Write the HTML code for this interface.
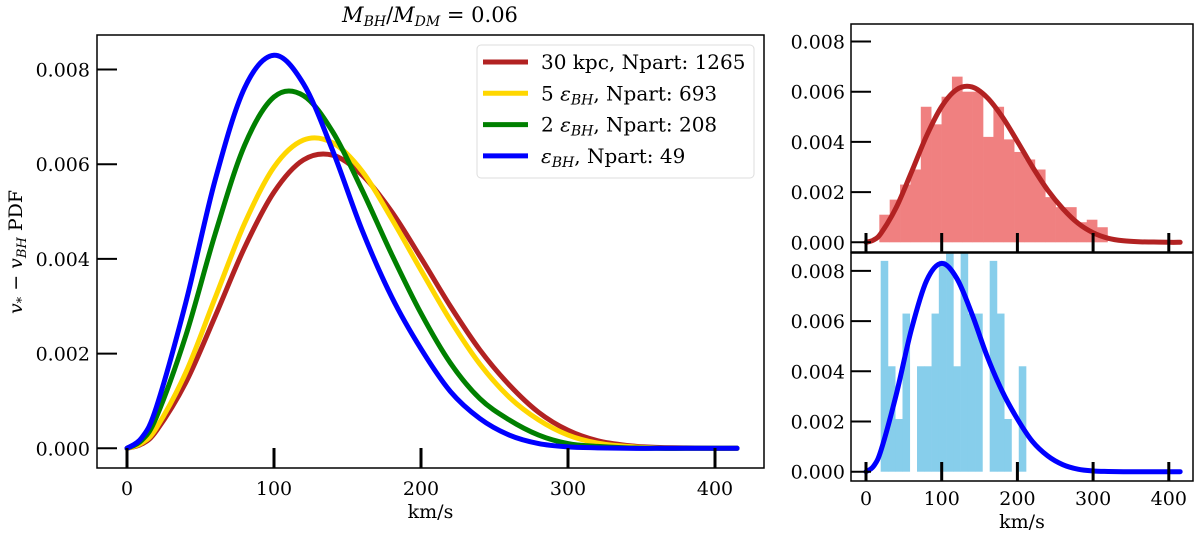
<!DOCTYPE html>
<html><head><meta charset="utf-8"><style>
html,body{margin:0;padding:0;background:#fff;}
svg{display:block;font-family:"DejaVu Serif","Liberation Serif",serif;}
</style></head><body>
<svg id="chart" width="1200" height="539" viewBox="0 0 1200 539" xmlns="http://www.w3.org/2000/svg">
<defs>
<clipPath id="clipMain"><rect x="97" y="35" width="667" height="433"/></clipPath>
<clipPath id="clipTop"><rect x="851" y="24" width="342" height="228"/></clipPath>
<clipPath id="clipBot"><rect x="851" y="253" width="342" height="228"/></clipPath>
</defs>
<text x="430" y="22" text-anchor="middle" font-size="21"><tspan font-style="italic">M</tspan><tspan font-style="italic" font-size="14" dy="4">BH</tspan><tspan dy="-4">/</tspan><tspan font-style="italic">M</tspan><tspan font-style="italic" font-size="14" dy="4">DM</tspan><tspan dy="-4"> = 0.06</tspan></text>
<text transform="translate(22,252) rotate(-90)" text-anchor="middle" font-size="19"><tspan font-style="italic">v</tspan><tspan font-size="13" dy="4">*</tspan><tspan dy="-4"> − </tspan><tspan font-style="italic">v</tspan><tspan font-style="italic" font-size="13" dy="4">BH</tspan><tspan dy="-4"> PDF</tspan></text>
<g id="main"></g><g id="top"></g><g id="bot"></g>
</svg>
<script>
const velocities = [0,10,20,40,60,80,100,120,140,160,180,200,220,240,260,280,300,320,340,360,380,400,415];
const pdf30kpc = [0,0.00009,0.00037,0.00139,0.00279,0.00424,0.00541,0.00609,0.00619,0.00577,0.00500,0.00402,0.00300,0.00208,0.00134,0.00076,0.00038,0.00016,0.00006,0.00002,0.00001,0,0];
const pdf5eps = [0,0.00011,0.00043,0.0016,0.00318,0.00475,0.00594,0.00651,0.00645,0.00585,0.00485,0.00376,0.0027,0.00178,0.00108,0.0006,0.00028,0.00011,0.00004,0.00001,0,0,0];
const pdf2eps = [0,0.00017,0.00066,0.00238,0.00453,0.0064,0.00742,0.00745,0.00668,0.00545,0.0041,0.00285,0.0018,0.00105,0.0006,0.00028,0.0001,0.00004,0.00001,0,0,0,0];
const pdf1eps = [0,0.00022,0.00087,0.00308,0.00567,0.00761,0.0083,0.0077,0.00628,0.0046,0.0032,0.0021,0.0012,0.00063,0.00028,0.0001,0.00003,0.00001,0,0,0,0,0];
const seriesLabels = ["30 kpc, Npart: 1265","5 εBH, Npart: 693","2 εBH, Npart: 208","εBH, Npart: 49"];
const xTicks = [0,100,200,300,400];
const yTicks = [0,0.002,0.004,0.006,0.008];
const yTickLabels = ["0.000","0.002","0.004","0.006","0.008"];
const histTopStart = 17.6, histTopWidth = 13.7;
const histTop = [0.0011,0.0017,0.0023,0.0029,0.0054,0.0047,0.0058,0.0066,0.0060,0.0060,0.0042,0.0054,0.0041,0.0036,0.0033,0.0029,0.0018,0.0014,0.0014,0.0008,0.0009,0.0006];
const histBotStart = 19.4, histBotWidth = 9.6;
const histBot = [0.0084,0.0042,0.0021,0.0063,0,0.0042,0.0042,0.0063,0.0084,0.0105,0.0042,0.0105,0.0063,0.0063,0,0.0084,0.0063,0.0021,0,0.0042];

const NS="http://www.w3.org/2000/svg";
const FS=19;
function mk(tag,attrs,parent){const e=document.createElementNS(NS,tag);for(const k in attrs)e.setAttribute(k,attrs[k]);parent.appendChild(e);return e;}
function pathOf(xs,ys,sx,sy){
  const p=xs.map((x,i)=>[sx(x),sy(ys[i])]);
  let d=`M${p[0][0]},${p[0][1]}`;
  for(let i=0;i<p.length-1;i++){
    const p0=p[Math.max(0,i-1)],p1=p[i],p2=p[i+1],p3=p[Math.min(p.length-1,i+2)];
    const c1=[p1[0]+(p2[0]-p0[0])/6,p1[1]+(p2[1]-p0[1])/6];
    const c2=[p2[0]-(p3[0]-p1[0])/6,p2[1]-(p3[1]-p1[1])/6];
    d+=`C${c1[0]},${c1[1]} ${c2[0]},${c2[1]} ${p2[0]},${p2[1]}`;
  }
  return d;
}
function axes(g,box,sx,sy,tickLen,labelY,xlabelY,fs,ylabelX,prefix){
  for(let i=0;i<xTicks.length;i++){
    const t=mk('line',{x1:sx(xTicks[i]),x2:sx(xTicks[i]),y1:box.b,y2:box.b-tickLen,stroke:'#000','stroke-width':3},g);
    
    
    const l=mk('text',{x:sx(xTicks[i]),y:labelY,'text-anchor':'middle','font-size':fs},g);
    
    
    l.textContent=xTicks[i];
  }
  for(let i=0;i<yTicks.length;i++){
    const t=mk('line',{x1:box.l,x2:box.l+tickLen,y1:sy(yTicks[i]),y2:sy(yTicks[i]),stroke:'#000','stroke-width':2},g);
    
    
    const l=mk('text',{x:ylabelX,y:sy(yTicks[i])+7,'text-anchor':'end','font-size':fs},g);
    
    
    l.textContent=yTickLabels[i];
  }
  const xl=mk('text',{x:(box.l+box.r)/2,y:xlabelY,'text-anchor':'middle','font-size':fs},g);
  
  
  xl.textContent='km/s';
}
function frame(g,box,prefix){
  const f=mk('rect',{x:box.l,y:box.t,width:box.r-box.l,height:box.b-box.t,fill:'none',stroke:'#000','stroke-width':1.5},g);
  
  
}
const M={l:97,r:764,t:35,b:468};
const mx=v=>127+v*1.47, my=v=>448.3-v*47350;
const gm=document.getElementById('main');
const colors=['#b22222','#ffd700','#008000','#0000ff'];
const allSeries=[pdf30kpc,pdf5eps,pdf2eps,pdf1eps];
const seriesNames=['curve-30kpc','curve-5-eps','curve-2-eps','curve-1-eps'];
const cg=mk('g',{'clip-path':'url(#clipMain)'},gm);
for(let s=0;s<4;s++){
  const p=mk('path',{d:pathOf(velocities,allSeries[s],mx,my),fill:'none',stroke:colors[s],'stroke-width':5,'stroke-linejoin':'round','stroke-linecap':'round'},cg);
  
  
}
axes(gm,M,mx,my,20,495,518,FS,90,'main-');
frame(gm,M,'main-');
const lg=mk('g',{},gm);


mk('rect',{x:477,y:45,width:277,height:133,rx:4,fill:'#fff',stroke:'#ddd','stroke-width':1},lg);
for(let s=0;s<4;s++){
  const y=62+s*31.3;
  const e=mk('g',{},lg);
  
  
  mk('line',{x1:483,x2:528,y1:y,y2:y,stroke:colors[s],'stroke-width':5},e);
  const t=mk('text',{x:541,y:y+7,'font-size':20},e);
  const lab=seriesLabels[s];
  const idx=lab.indexOf('εBH');
  if(idx<0){t.textContent=lab;}else{
    const a=document.createElementNS(NS,'tspan');a.textContent=lab.slice(0,idx);t.appendChild(a);
    const b=document.createElementNS(NS,'tspan');b.setAttribute('font-style','italic');b.textContent='ε';t.appendChild(b);
    const c=document.createElementNS(NS,'tspan');c.setAttribute('font-style','italic');c.setAttribute('font-size','14');c.setAttribute('dy','4');c.textContent='BH';t.appendChild(c);
    const d=document.createElementNS(NS,'tspan');d.setAttribute('dy','-4');d.textContent=lab.slice(idx+3);t.appendChild(d);
  }
}
const rx=v=>866+v*0.757;
function panel(id,box,y0,hist,hs,hw,hcol,curve,ccol,clip,prefix,showX){
  const g=document.getElementById(id);
  const sy=v=>y0-v*25100;
  const hg=mk('g',{'clip-path':`url(#${clip})`},g);
  for(let i=0;i<hist.length;i++){
    if(hist[i]<=0)continue;
    const x1=rx(hs+i*hw),x2=rx(hs+(i+1)*hw);
    const r=mk('rect',{x:x1,y:sy(hist[i]),width:x2-x1+0.3,height:y0-sy(hist[i]),fill:hcol},hg);
    
    
  }
  const p=mk('path',{d:pathOf(velocities,curve,rx,sy),fill:'none',stroke:ccol,'stroke-width':5,'stroke-linecap':'round'},hg);
  
  
  for(let i=0;i<xTicks.length;i++){
    const t=mk('line',{x1:rx(xTicks[i]),x2:rx(xTicks[i]),y1:box.b,y2:box.b-19,stroke:'#000','stroke-width':3},g);
    
    
    if(showX){
      const l=mk('text',{x:rx(xTicks[i]),y:505,'text-anchor':'middle','font-size':FS},g);
      
      
      l.textContent=xTicks[i];
    }
  }
  for(let i=0;i<yTicks.length;i++){
    const t=mk('line',{x1:box.l,x2:box.l+20,y1:sy(yTicks[i]),y2:sy(yTicks[i]),stroke:'#000','stroke-width':2},g);
    
    
    const l=mk('text',{x:845,y:sy(yTicks[i])+7,'text-anchor':'end','font-size':FS},g);
    
    
    l.textContent=yTickLabels[i];
  }
  if(showX){
    const xl=mk('text',{x:1022,y:528,'text-anchor':'middle','font-size':FS},g);
    
    
    xl.textContent='km/s';
  }
  frame(g,box,prefix);
}
panel('top',{l:851,r:1193,t:24,b:252},242.3,histTop,histTopStart,histTopWidth,'#f08080',pdf30kpc,'#b22222','clipTop','top-',false);
panel('bot',{l:851,r:1193,t:253,b:481},471.7,histBot,histBotStart,histBotWidth,'#87ceeb',pdf1eps,'#0000ff','clipBot','bottom-',true);
</script>
</body></html>
